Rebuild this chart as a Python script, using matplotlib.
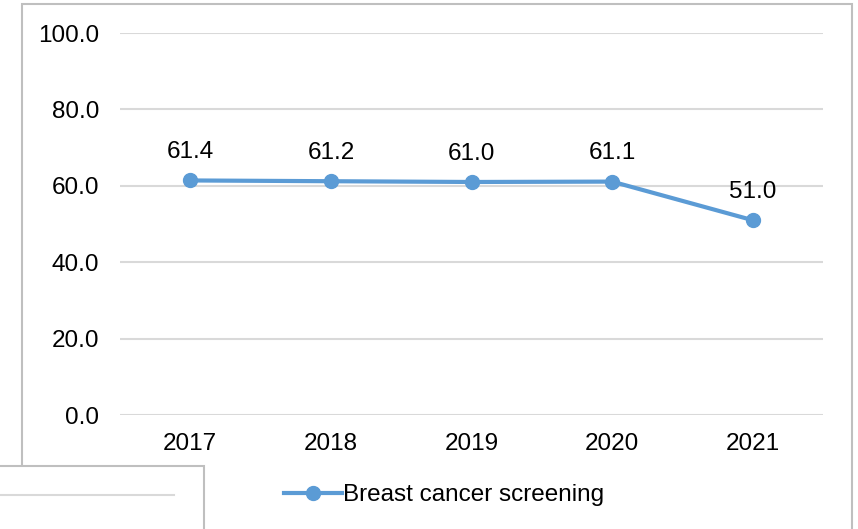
import matplotlib.pyplot as plt
from matplotlib.patches import Rectangle
from matplotlib.lines import Line2D

years = ['2017', '2018', '2019', '2020', '2021']
screening = [61.4, 61.2, 61.0, 61.1, 51.0]
yticks = [0, 20, 40, 60, 80, 100]

plt.rcParams['font.family'] = ['Liberation Sans', 'DejaVu Sans']
fs = 17.5

fig = plt.figure(figsize=(8.58, 5.29), dpi=100)
ax = fig.add_axes([120 / 858, 1 - 415 / 529, 703 / 858, 382 / 529])

blue = '#5B9BD5'
x = range(len(years))
ax.plot(x, screening, color=blue, lw=3, marker='o', ms=10,
        label='Breast cancer screening', zorder=3)
for i, v in zip(x, screening):
    ax.annotate(f'{v:.1f}', (i, v), xytext=(0, 12.5), textcoords='offset points',
                ha='center', va='bottom', fontsize=fs)

ax.set_xlim(-0.5, len(years) - 0.5)
ax.set_ylim(0, 100)
ax.set_yticks(yticks)
ax.set_yticklabels([f'{t:.1f}' for t in yticks], fontsize=fs)
ax.set_xticks(list(x))
ax.set_xticklabels(years, fontsize=fs)
ax.tick_params(length=0)
ax.tick_params(axis='y', pad=15)
ax.tick_params(axis='x', pad=13)
ax.grid(axis='y', color='#D9D9D9', lw=1.5)
ax.set_axisbelow(True)
for s in ax.spines.values():
    s.set_visible(False)

fig.legend(loc='center', bbox_to_anchor=(444 / 858, 1 - 495 / 529),
           frameon=False, fontsize=fs, handlelength=2.4, handletextpad=0.05)

# outer chart border
fig.patches.append(Rectangle((22 / 858, -0.1), 830 / 858, 1.1 - 4 / 529,
                             transform=fig.transFigure, fill=False,
                             ec='#BFBFBF', lw=1.5))
# overlapping box at the bottom left
fig.patches.append(Rectangle((-0.01, -0.1), 213 / 858, 0.1 + 63 / 529,
                             transform=fig.transFigure, fc='white',
                             ec='#BFBFBF', lw=1.5, zorder=5))
fig.lines.append(Line2D([0, 174 / 858], [1 - 495 / 529] * 2,
                        transform=fig.transFigure, color='#D9D9D9', lw=1.5,
                        zorder=6))

fig.savefig('out.png', dpi=100)
